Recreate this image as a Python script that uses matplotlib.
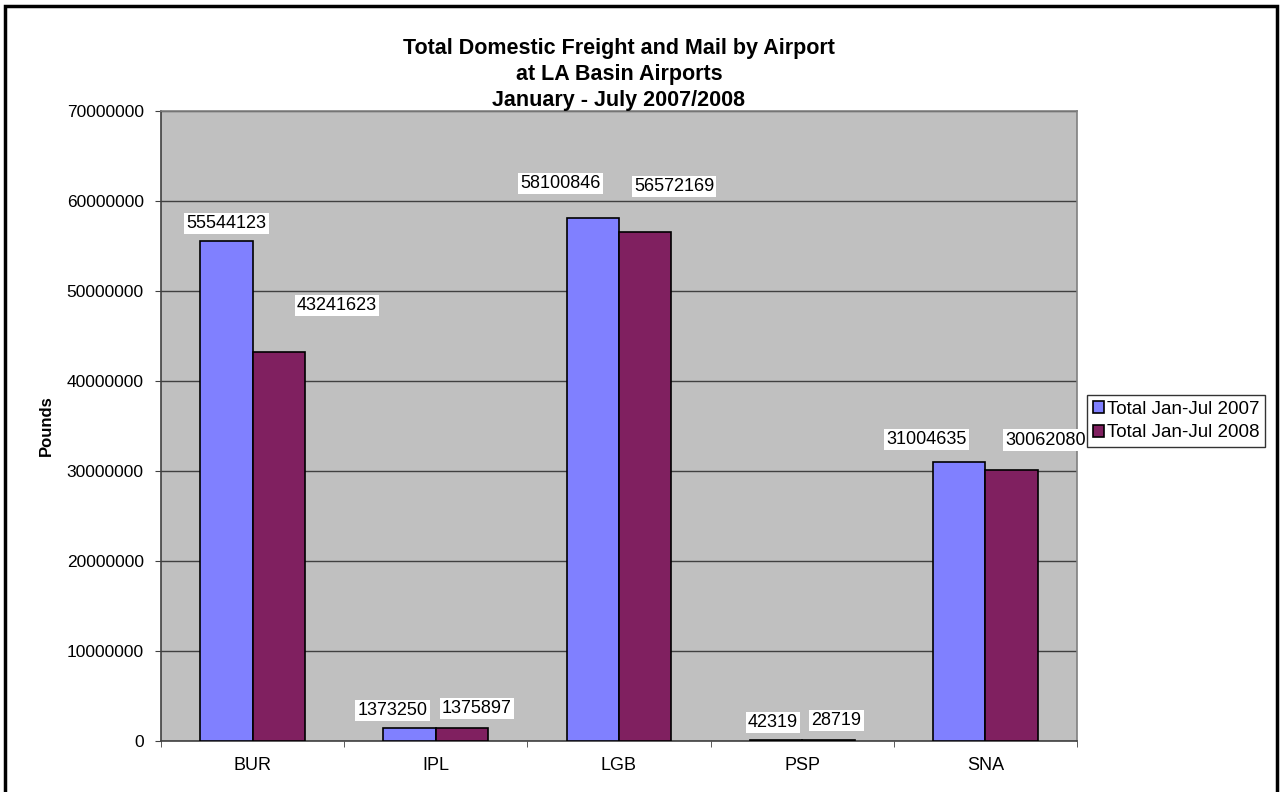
import numpy as np
import matplotlib
matplotlib.use("Agg")
import matplotlib.pyplot as plt
from matplotlib.patches import Rectangle

plt.rcParams['font.family'] = ['Liberation Sans', 'DejaVu Sans']

airports = ["BUR", "IPL", "LGB", "PSP", "SNA"]
total_2007 = [55544123, 1373250, 58100846, 42319, 31004635]
total_2008 = [43241623, 1375897, 56572169, 28719, 30062080]
series_names = ["Total Jan-Jul 2007", "Total Jan-Jul 2008"]

# label nudges in pixels (dx, dy above bar top), as placed in the original
nudge_2007 = [(0, 17), (-17, 18), (-32, 34), (-3, 18), (-33, 22)]
nudge_2008 = [(58, 46), (15, 20), (29, 45), (8, 20), (34, 30)]

fig = plt.figure(figsize=(12.82, 7.92), dpi=100)
ax = fig.add_axes([161 / 1282, 1 - 740.7 / 792, (1077 - 161) / 1282, 630 / 792])
ax.set_facecolor("#C0C0C0")

x = np.arange(len(airports))
w = 1 / 3.5
b1 = ax.bar(x - w / 2, total_2007, w, color="#8080FF", edgecolor="black", linewidth=1.2,
            label=series_names[0], zorder=3)
b2 = ax.bar(x + w / 2, total_2008, w, color="#802060", edgecolor="black", linewidth=1.2,
            label=series_names[1], zorder=3)

for bars, vals, nudges in [(b1, total_2007, nudge_2007), (b2, total_2008, nudge_2008)]:
    for rect, v, (dx, dy) in zip(bars, vals, nudges):
        ax.annotate(str(v), (rect.get_x() + rect.get_width() / 2, v),
                    xytext=(dx * 0.72, dy * 0.72), textcoords="offset points",
                    ha="center", va="center", fontsize=13, zorder=5,
                    bbox=dict(boxstyle="square,pad=0.12", fc="white", ec="none"))

ax.set_xlim(-0.5, len(airports) - 0.5)
ax.set_ylim(0, 70000000)
ax.set_yticks(np.arange(0, 70000001, 10000000))
ax.set_yticklabels([str(v) for v in range(0, 70000001, 10000000)], fontsize=12.5)
ax.yaxis.grid(True, color="#404040", linewidth=1, zorder=1)
ax.set_xticks(x)
ax.set_xticklabels(airports, fontsize=13)
ax.set_xticks(np.arange(-0.5, len(airports)), minor=True)
ax.tick_params(axis="x", which="major", length=0, pad=12)
ax.tick_params(axis="x", which="minor", length=4.5, color="#404040", direction="out")
ax.tick_params(axis="y", length=4.5, color="#404040", direction="out", pad=8)
for side in ["left", "bottom"]:
    ax.spines[side].set_color("#404040")
    ax.spines[side].set_linewidth(1.2)
for side in ["right", "top"]:
    ax.spines[side].set_color("#808080")
    ax.spines[side].set_linewidth(1.2)

ax.set_ylabel("Pounds", fontsize=12, fontweight="bold", labelpad=9)
ax.set_title("Total Domestic Freight and Mail by Airport\nat LA Basin Airports\nJanuary - July 2007/2008",
             fontsize=15.5, fontweight="bold", linespacing=1.3, pad=0.5)

leg = fig.legend(handles=[b1, b2], loc="upper left", bbox_to_anchor=(1087 / 1282, 1 - 395 / 792),
                 fontsize=13.5, frameon=True, fancybox=False, handlelength=0.6, handleheight=0.6,
                 handletextpad=0.15, borderpad=0.3, labelspacing=0.35, borderaxespad=0)
leg.get_frame().set_edgecolor("black")
leg.get_frame().set_linewidth(1)

fig.patches.append(Rectangle((5 / 1282, -0.05), 1272 / 1282, 1.05 - 6 / 792,
                             transform=fig.transFigure, fill=False, edgecolor="black", linewidth=2.5))

fig.savefig("out.png", dpi=100)
